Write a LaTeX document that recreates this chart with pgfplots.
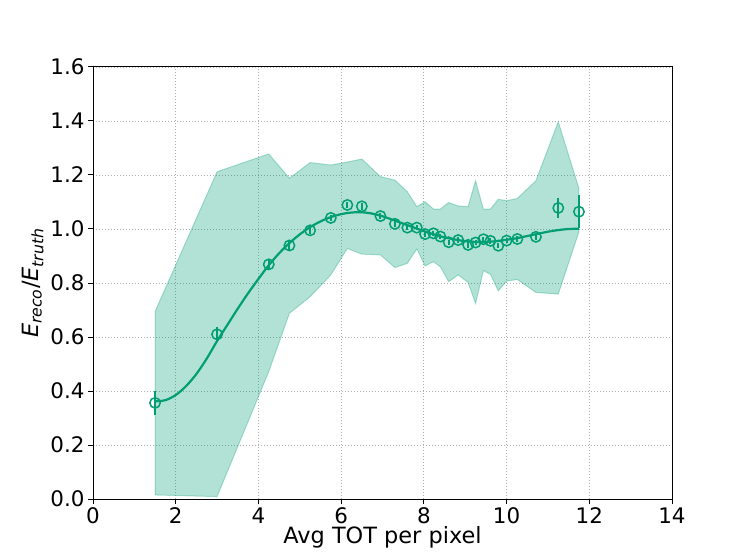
\documentclass[border=0pt]{standalone}
\usepackage{fontspec}
\setmainfont{DejaVu Sans}
\usepackage{pgfplots}
\usepackage{pgfplotstable}
\pgfplotsset{compat=1.18}
\definecolor{cgreen}{RGB}{0,158,115}

\pgfplotstableread{
x y e
1.50 0.356 0.045
3.00 0.610 0.027
4.25 0.869 0.020
4.75 0.939 0.015
5.25 0.995 0.014
5.75 1.041 0.012
6.15 1.089 0.012
6.50 1.084 0.012
6.95 1.048 0.010
7.30 1.019 0.010
7.60 1.005 0.010
7.83 1.005 0.010
8.03 0.981 0.010
8.23 0.984 0.010
8.40 0.972 0.010
8.60 0.951 0.010
8.83 0.959 0.010
9.07 0.941 0.010
9.25 0.950 0.010
9.44 0.962 0.010
9.61 0.956 0.010
9.80 0.938 0.010
10.00 0.957 0.010
10.26 0.963 0.010
10.71 0.971 0.012
11.25 1.078 0.037
11.75 1.064 0.062
}\points

\pgfplotstableread{
x y
1.50 0.362
1.75 0.366
2.00 0.385
2.25 0.418
2.50 0.463
2.75 0.520
3.00 0.585
3.25 0.645
3.50 0.705
3.75 0.762
4.00 0.815
4.25 0.866
4.50 0.910
4.75 0.948
5.00 0.980
5.25 1.007
5.50 1.028
5.75 1.044
6.00 1.055
6.25 1.061
6.50 1.062
6.75 1.057
7.00 1.047
7.25 1.034
7.50 1.020
7.75 1.006
8.00 0.992
8.25 0.980
8.50 0.969
8.75 0.961
9.00 0.955
9.25 0.952
9.50 0.952
9.75 0.955
10.00 0.960
10.25 0.966
10.50 0.974
10.75 0.982
11.00 0.990
11.25 0.996
11.50 1.000
11.75 1.001
}\fitcurve

\begin{document}
\begin{tikzpicture}
\begin{axis}[name=ax, scale only axis, width=579bp, height=432bp,
  xmin=0, xmax=14, ymin=0, ymax=1.6,
  xtick={0,2,4,6,8,10,12,14},
  ytick={0,0.2,0.4,0.6,0.8,1.0,1.2,1.4,1.6},
  yticklabel style={/pgf/number format/.cd,fixed,fixed zerofill,precision=1},
  /pgf/number format/assume math mode=true,
  tick label style={font=\fontsize{21.5}{25}\selectfont},
  label style={font=\fontsize{22.5}{26}\selectfont},
  grid=major,
  grid style={color=black!32, line width=0.8pt, dash pattern=on 1bp off 2bp},
  tick align=outside, tick pos=left, major tick length=5bp,
  tick style={black, line width=1pt},
  axis line style={line width=1pt},
  xlabel={Avg TOT per pixel},
  ylabel={\textit{E}\textsubscript{\textit{reco}}/\textit{E}\textsubscript{\textit{truth}}},
  xlabel style={yshift=4bp},
  ylabel style={yshift=0bp},
]
\addplot[fill=cgreen, fill opacity=0.3, draw=cgreen, draw opacity=0.3, line width=1pt] coordinates {
(1.50,0.694) (3.00,1.212) (4.25,1.278) (4.75,1.188) (5.25,1.246) (5.75,1.237)
(6.15,1.248) (6.50,1.259) (6.95,1.194) (7.30,1.181) (7.60,1.138) (7.83,1.083)
(8.03,1.101) (8.23,1.074) (8.40,1.074) (8.60,1.098) (8.83,1.085) (9.07,1.083)
(9.25,1.179) (9.44,1.073) (9.61,1.074) (9.80,1.110) (10.00,1.105) (10.26,1.113)
(10.71,1.179) (11.25,1.397) (11.75,1.150)
(11.75,0.990) (11.25,0.759) (10.71,0.765) (10.26,0.813) (10.00,0.807) (9.80,0.771)
(9.61,0.832) (9.44,0.846) (9.25,0.724) (9.07,0.802) (8.83,0.830) (8.60,0.805)
(8.40,0.860) (8.23,0.879) (8.03,0.863) (7.83,0.926) (7.60,0.873) (7.30,0.857)
(6.95,0.904) (6.50,0.907) (6.15,0.928) (5.75,0.830) (5.25,0.749) (4.75,0.688)
(4.25,0.472) (3.00,0.009) (1.50,0.015)
} -- cycle;
\addplot[cgreen, line width=2.2bp, smooth, no marks] table[x=x,y=y] {\fitcurve};
\addplot[cgreen, only marks, mark=o, mark size=5.2bp, mark options={line width=1.5bp},
  error bars/.cd, y dir=both, y explicit, error mark=none,
  error bar style={line width=2bp}]
  table[x=x, y=y, y error=e] {\points};
\end{axis}
\path ([shift={(-93bp,-61bp)}]ax.south west) rectangle ([shift={(75bp,67bp)}]ax.north east);
\end{tikzpicture}
\end{document}
